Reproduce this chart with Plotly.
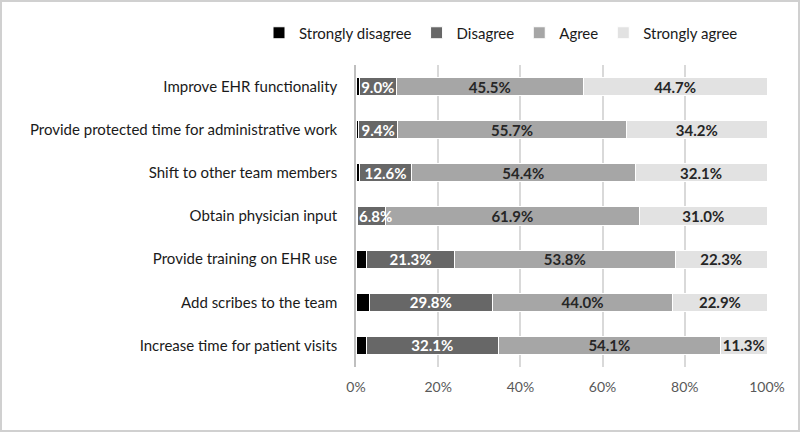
import plotly.graph_objects as go

categories = [
    "Improve EHR functionality",
    "Provide protected time for administrative work",
    "Shift to other team members",
    "Obtain physician input",
    "Provide training on EHR use",
    "Add scribes to the team",
    "Increase time for patient visits",
]
strongly_disagree = [0.8, 0.7, 0.9, 0.3, 2.6, 3.3, 2.5]
disagree = [9.0, 9.4, 12.6, 6.8, 21.3, 29.8, 32.1]
agree = [45.5, 55.7, 54.4, 61.9, 53.8, 44.0, 54.1]
strongly_agree = [44.7, 34.2, 32.1, 31.0, 22.3, 22.9, 11.3]
x_ticks = [0, 20, 40, 60, 80, 100]
x_tick_labels = ["0%", "20%", "40%", "60%", "80%", "100%"]

FONT = "Lato, 'Open Sans', sans-serif"
NARROW = 8.0  # segments narrower than this get a left-anchored label

series = [
    ("Strongly disagree", strongly_disagree, "#000000", None),
    ("Disagree", disagree, "#676767", "#ffffff"),
    ("Agree", agree, "#a6a6a6", "#262626"),
    ("Strongly agree", strongly_agree, "#e2e2e2", "#262626"),
]

fig = go.Figure()
for name, vals, color, tcolor in series:
    if tcolor:
        texts = [("" if (name == "Disagree" and v < NARROW) else f"{v:.1f}%") for v in vals]
        kw = dict(
            text=texts,
            texttemplate="%{text}",
            textposition="inside",
            insidetextanchor="middle",
            textangle=0,
            textfont=dict(family=FONT, size=15, color=tcolor, weight="bold"),
            constraintext="none",
            cliponaxis=False,
        )
    else:
        kw = dict(textposition="none")
    fig.add_trace(go.Bar(
        name=name, y=categories, x=vals, orientation="h",
        marker=dict(color=color, line=dict(color="#ffffff", width=1)),
        width=0.42, **kw,
    ))

# labels for narrow Disagree segments, anchored at the segment start
for cat, sd, d in zip(categories, strongly_disagree, disagree):
    if d < NARROW:
        fig.add_annotation(
            x=sd, y=cat, xref="x", yref="y", text=f"{d:.1f}%",
            showarrow=False, xanchor="left", yanchor="middle", xshift=0,
            font=dict(family=FONT, size=15, color="#ffffff", weight="bold"),
        )

W = 411.0
H = 302.0
def px_x(p):
    return (p - 356) / W
def px_y(p):
    return (367 - p) / H

fig.update_layout(
    barmode="stack",
    width=800, height=432,
    margin=dict(l=356, r=33, t=65, b=65, autoexpand=False),
    paper_bgcolor="#ffffff", plot_bgcolor="#ffffff",
    font=dict(family=FONT, size=15, color="#1a1a1a"),
    uniformtext=dict(minsize=15, mode="show"),
    showlegend=True,
    legend=dict(
        orientation="h", xref="paper", yref="paper",
        x=px_x(259), y=px_y(33), xanchor="left", yanchor="middle",
        font=dict(family=FONT, size=15, color="#1a1a1a"),
        traceorder="normal", itemwidth=30, itemclick=False,
        bgcolor="rgba(0,0,0,0)",
    ),
    xaxis=dict(
        range=[0, 100], tickvals=x_ticks, ticktext=x_tick_labels,
        showgrid=True, gridcolor="#d9d9d9", gridwidth=1.5,
        zeroline=False, showline=False,
        tickfont=dict(family=FONT, size=14, color="#595959"),
        ticks="", ticklabelstandoff=10, fixedrange=True,
    ),
    yaxis=dict(
        categoryorder="array", categoryarray=categories[::-1],
        showline=True, linecolor="#bfbfbf", linewidth=1.5,
        ticks="", ticklabelstandoff=14,
        tickfont=dict(family=FONT, size=15, color="#1a1a1a"),
        showgrid=False, fixedrange=True,
    ),
    shapes=[dict(
        type="rect", xref="paper", yref="paper",
        x0=px_x(1), x1=px_x(799), y0=px_y(431), y1=px_y(1),
        line=dict(color="#d0d0d0", width=2), fillcolor="rgba(0,0,0,0)",
        layer="below",
    )],
)

fig.write_html(
    "out.html",
    config={"displayModeBar": False},
    post_script="document.body.style.margin='0';document.body.style.overflow='hidden';",
)
